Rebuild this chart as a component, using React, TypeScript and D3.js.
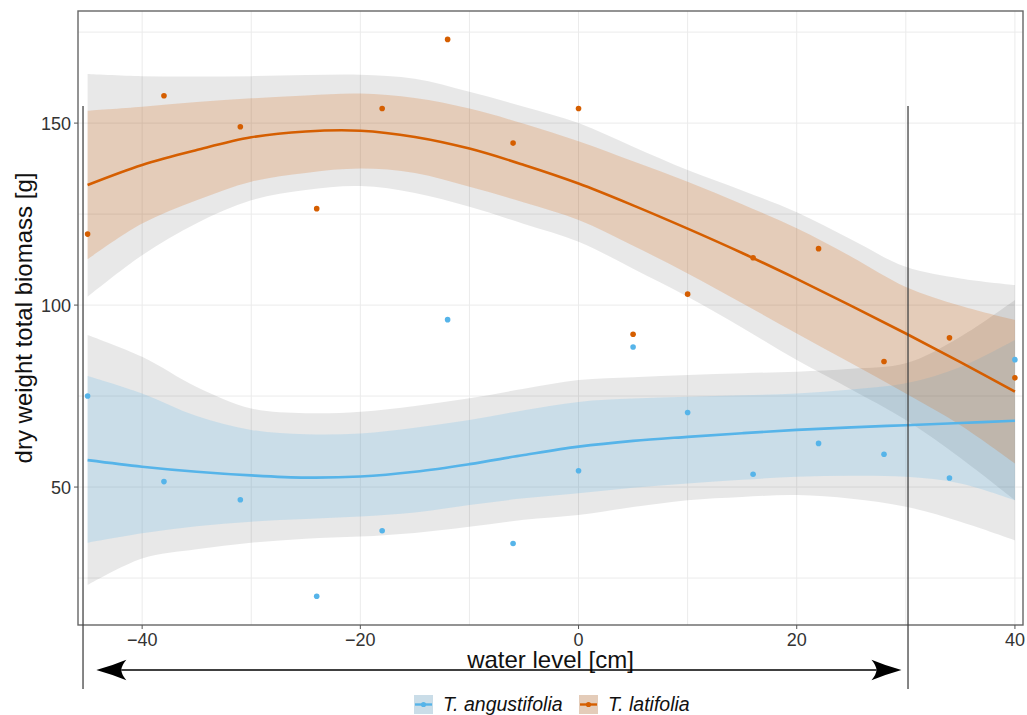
import React from "react";
import * as d3 from "d3";

// ---- data ----
const seriesNames = ["T. angustifolia", "T. latifolia"];
const seriesColors = ["#56B4E9", "#D55E00"];

const waterLevel = [-45, -38, -31, -24, -18, -12, -6, 0, 5, 10, 16, 22, 28, 34, 40];
const angustifoliaBiomass = [75, 51.5, 46.5, 20, 38, 96, 34.5, 54.5, 88.5, 70.5, 53.5, 62, 59, 52.5, 85];
const latifoliaBiomass = [119.5, 157.5, 149, 126.5, 154, 173, 144.5, 154, 92, 103, 113, 115.5, 84.5, 91, 80];

const fitX = [-45, -40, -35, -30, -25, -20, -15, -10, -5, 0, 5, 10, 15, 20, 25, 30, 35, 40];

const angFit = [57.4, 55.6, 54.2, 53.2, 52.6, 52.9, 54.2, 56.3, 58.8, 61.1, 62.7, 63.8, 64.8, 65.7, 66.4, 67.0, 67.6, 68.2];
const angCiHi = [80.5, 75.7, 69.5, 65.7, 64.5, 64.7, 66.3, 68.4, 71.1, 73.4, 74.3, 74.8, 75.2, 75.7, 76.8, 78.5, 83, 90.4];
const angCiLo = [34.7, 37.3, 39.2, 40.5, 41.2, 41.9, 43.0, 45.1, 46.9, 48.3, 49.8, 51.0, 52.0, 52.8, 53.1, 52.8, 51, 46.4];
const angOutHi = [91.8, 85.8, 77.5, 71.6, 70.3, 70.7, 72.3, 74.4, 77, 79.4, 80.2, 80.8, 81.3, 81.7, 82.5, 84, 91.3, 101.4];
const angOutLo = [23.1, 30.4, 32.9, 34.7, 35.8, 36.4, 37.4, 39.1, 41, 42.3, 44.5, 46.4, 47.3, 47.8, 46.8, 44.6, 40.5, 35.4];

const latFit = [133, 138.5, 142.6, 146.1, 147.7, 147.9, 146.2, 143.0, 138.5, 133.4, 127.4, 121.0, 114.3, 107.2, 99.8, 92.2, 84.3, 76.2];
const latCiHi = [153.4, 154.5, 155.8, 156.8, 157.6, 158.1, 156.9, 154.0, 149.8, 145.0, 139.5, 133.9, 127.7, 121.1, 113.3, 105.0, 99.8, 95.9];
const latCiLo = [112.6, 122.4, 128.8, 133.9, 136.3, 137.5, 136.3, 132.5, 128.2, 123.4, 116.3, 108.7, 100.5, 92.2, 84, 75.7, 67, 56.5];
const latOutHi = [163.5, 162.9, 162.8, 162.9, 163.2, 163.3, 162.2, 158.6, 154.5, 150, 143.5, 137.1, 131.5, 125.5, 118, 110.5, 107.3, 105.5];
const latOutLo = [102.3, 113.7, 122.5, 128.8, 131.6, 132.7, 130.8, 127, 122.3, 117.4, 110, 102.3, 93.8, 84.9, 76.8, 68.4, 58, 46.4];

const xMajor = [-40, -20, 0, 20, 40];
const xMinor = [-30, -10, 10, 30];
const yMajor = [50, 100, 150];
const yMinor = [25, 75, 125, 175];

// annotation (data units on x)
const markerLines = [-45.42, 30.2];
const arrowFrom = -44.2;
const arrowTo = 29.6;

const W = 1027;
const H = 715;
const FONT = "'Liberation Sans', Arial, Helvetica, sans-serif";

const fmt = (v: number) => (v < 0 ? "\u2212" + Math.abs(v) : String(v));

export default function App() {
  const panel = { left: 78, right: 1023, top: 11, bottom: 625 };
  const x = d3.scaleLinear().domain([-45.88, 40.74]).range([panel.left, panel.right]);
  const y = d3.scaleLinear().domain([12.1, 180.8]).range([panel.bottom, panel.top]);

  const curve = d3.curveCatmullRom.alpha(0.5);
  const area = (hi: number[], lo: number[]) =>
    d3
      .area<number>()
      .x((d) => x(d))
      .y0((_, i) => y(lo[i]))
      .y1((_, i) => y(hi[i]))
      .curve(curve)(fitX) as string;
  const line = (v: number[]) =>
    d3
      .line<number>()
      .x((d) => x(d))
      .y((_, i) => y(v[i]))
      .curve(curve)(fitX) as string;

  const series = [
    { name: seriesNames[0], color: seriesColors[0], pts: angustifoliaBiomass, fit: angFit, ciHi: angCiHi, ciLo: angCiLo, oHi: angOutHi, oLo: angOutLo },
    { name: seriesNames[1], color: seriesColors[1], pts: latifoliaBiomass, fit: latFit, ciHi: latCiHi, ciLo: latCiLo, oHi: latOutHi, oLo: latOutLo },
  ];

  const arrowY = 670;
  const ax0 = x(arrowFrom);
  const ax1 = x(arrowTo);
  const headLen = 30;
  const headHalf = 10.3;
  const notch = 5;
  const head = (tip: number, dir: number) => {
    const bx = tip + dir * headLen;
    const nx = bx - dir * notch;
    const mx = tip + dir * headLen * 0.55;
    return `M${tip},${arrowY} Q${mx},${arrowY - headHalf * 0.45} ${bx},${arrowY - headHalf} Q${nx},${arrowY - headHalf * 0.4} ${nx},${arrowY} Q${nx},${arrowY + headHalf * 0.4} ${bx},${arrowY + headHalf} Q${mx},${arrowY + headHalf * 0.45} ${tip},${arrowY} Z`;
  };

  const legendItems = [
    { key: 414, text: 443 },
    { key: 579, text: 608 },
  ];

  return (
    <svg width={W} height={H} style={{ position: "absolute", left: 0, top: 0, background: "#fff" }} fontFamily={FONT}>
      <defs>
        <clipPath id="panel">
          <rect x={panel.left} y={panel.top} width={panel.right - panel.left} height={panel.bottom - panel.top} />
        </clipPath>
      </defs>
      <rect x={0} y={0} width={W} height={H} fill="#fff" />
      {/* grid */}
      <g stroke="#ebebeb" strokeWidth={1}>
        {[...xMinor, ...xMajor].map((v) => (
          <line key={"gx" + v} x1={x(v)} x2={x(v)} y1={panel.top} y2={panel.bottom} />
        ))}
        {[...yMinor, ...yMajor].map((v) => (
          <line key={"gy" + v} x1={panel.left} x2={panel.right} y1={y(v)} y2={y(v)} />
        ))}
      </g>
      <g clipPath="url(#panel)">
        {/* outer gray bands */}
        {series.map((s) => (
          <path key={"o" + s.name} d={area(s.oHi, s.oLo)} fill="#000" fillOpacity={0.09} />
        ))}
        {/* coloured confidence bands */}
        {series.map((s) => (
          <path key={"c" + s.name} d={area(s.ciHi, s.ciLo)} fill={s.color} fillOpacity={0.2} />
        ))}
        {series.map((s) => (
          <path key={"l" + s.name} d={line(s.fit)} fill="none" stroke={s.color} strokeWidth={2.6} />
        ))}
        {series.map((s) =>
          s.pts.map((v, i) => <circle key={s.name + i} cx={x(waterLevel[i])} cy={y(v)} r={2.8} fill={s.color} />)
        )}
      </g>
      {/* panel border */}
      <rect
        x={panel.left}
        y={panel.top}
        width={panel.right - panel.left}
        height={panel.bottom - panel.top}
        fill="none"
        stroke="#666"
        strokeWidth={1.4}
      />
      {/* axes ticks */}
      <g stroke="#555" strokeWidth={1}>
        {xMajor.map((v) => (
          <line key={"tx" + v} x1={x(v)} x2={x(v)} y1={panel.bottom} y2={panel.bottom + 4} />
        ))}
        {yMajor.map((v) => (
          <line key={"ty" + v} x1={panel.left - 4} x2={panel.left} y1={y(v)} y2={y(v)} />
        ))}
      </g>
      <g fontSize={18} fill="#333">
        {xMajor.map((v) => (
          <text key={"lx" + v} x={x(v)} y={646} textAnchor="middle">
            {fmt(v)}
          </text>
        ))}
        {yMajor.map((v) => (
          <text key={"ly" + v} x={71} y={y(v) + 6.5} textAnchor="end">
            {fmt(v)}
          </text>
        ))}
      </g>
      {/* axis titles */}
      <text x={(panel.left + panel.right) / 2} y={668} textAnchor="middle" fontSize={24} fill="#111">
        water level [cm]
      </text>
      <text
        transform={`translate(32,${(panel.top + panel.bottom) / 2}) rotate(-90)`}
        textAnchor="middle"
        fontSize={24}
        fill="#111"
      >
        dry weight total biomass [g]
      </text>
      {/* annotation lines */}
      <g stroke="#444" strokeWidth={1.3}>
        {markerLines.map((v) => (
          <line key={"m" + v} x1={x(v)} x2={x(v)} y1={106} y2={689} />
        ))}
        <line x1={ax0 + headLen - notch} x2={ax1 - headLen + notch} y1={arrowY} y2={arrowY} stroke="#000" strokeWidth={1.3} />
      </g>
      <path d={head(ax0, 1)} fill="#000" />
      <path d={head(ax1, -1)} fill="#000" />
      {/* legend */}
      {series.map((s, i) => (
        <g key={"lg" + s.name}>
          <rect x={legendItems[i].key} y={695} width={19} height={19} fill="#000" fillOpacity={0.09} />
          <rect x={legendItems[i].key} y={695} width={19} height={19} fill={s.color} fillOpacity={0.2} />
          <line x1={legendItems[i].key + 1} x2={legendItems[i].key + 18} y1={704.5} y2={704.5} stroke={s.color} strokeWidth={2.4} />
          <circle cx={legendItems[i].key + 9.5} cy={704.5} r={2.6} fill={s.color} />
          <text x={legendItems[i].text} y={711} fontSize={19.5} fontStyle="italic" fill="#111">
            {s.name}
          </text>
        </g>
      ))}
    </svg>
  );
}
